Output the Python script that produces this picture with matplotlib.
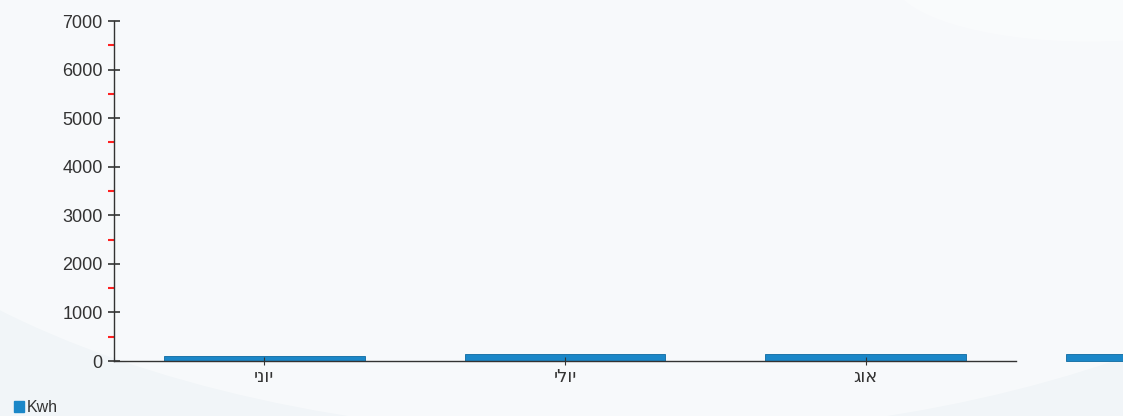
import matplotlib.pyplot as plt
from matplotlib.patches import Patch, Ellipse
from matplotlib.ticker import MultipleLocator

months = ["יוני", "יולי", "אוג", ""]
kwh = [110, 150, 150, 150]
yticks = [0, 1000, 2000, 3000, 4000, 5000, 6000, 7000]

plt.rcParams['font.family'] = ['Liberation Sans', 'DejaVu Sans']

fig = plt.figure(figsize=(11.23, 4.16), dpi=100)
fig.patch.set_facecolor('#f1f5f8')

# soft background swooshes
bg = fig.add_axes([0, 0, 1, 1], zorder=-1)
bg.set_xlim(0, 1)
bg.set_ylim(0, 1)
bg.axis('off')
bg.add_patch(Ellipse((0.55, 0.9), 1.5, 1.9, color='white', alpha=0.45, lw=0))
bg.add_patch(Ellipse((0.97, 1.05), 0.35, 0.3, color='white', alpha=0.35, lw=0))

ax = fig.add_axes([0.1015, 0.1322, 0.8032, 0.8173])
ax.patch.set_alpha(0)

x = list(range(len(kwh)))
bars = ax.bar(x, kwh, width=0.667, color='#1b87c8', edgecolor='#0e6aa0', linewidth=0.6)
for b in bars:
    b.set_clip_on(False)

ax.set_xlim(-0.5, 2.5)
ax.set_ylim(0, 7000)
ax.set_xticks(x[:3])
# matplotlib lays text out left to right, so reverse the Hebrew labels
ax.set_xticklabels([m[::-1] for m in months[:3]], fontsize=13, color='#333333',
                   family=['DejaVu Sans'])
ax.set_yticks(yticks)
ax.set_yticklabels([str(v) for v in yticks], fontsize=13, color='#333333')
ax.yaxis.set_minor_locator(MultipleLocator(500))

ax.spines['top'].set_visible(False)
ax.spines['right'].set_visible(False)
for s in ['left', 'bottom']:
    ax.spines[s].set_color('#333333')
    ax.spines[s].set_linewidth(1)

ax.tick_params(axis='y', which='major', direction='inout', length=8, width=1.2,
               color='#333333', pad=4)
ax.tick_params(axis='y', which='minor', direction='out', length=4, width=1.5, color='#ff2020')
ax.tick_params(axis='x', which='major', direction='inout', length=6, color='#333333', pad=2)

fig.legend(handles=[Patch(facecolor='#1b87c8', edgecolor='#1b87c8')], labels=['Kwh'],
           loc='center left', bbox_to_anchor=(0.0015, 0.02), frameon=False,
           borderpad=0.3, handlelength=0.6, handleheight=0.6, handletextpad=0.2,
           fontsize=11.5, labelcolor='#333333')

fig.savefig('out.png', dpi=100, facecolor=fig.get_facecolor())
